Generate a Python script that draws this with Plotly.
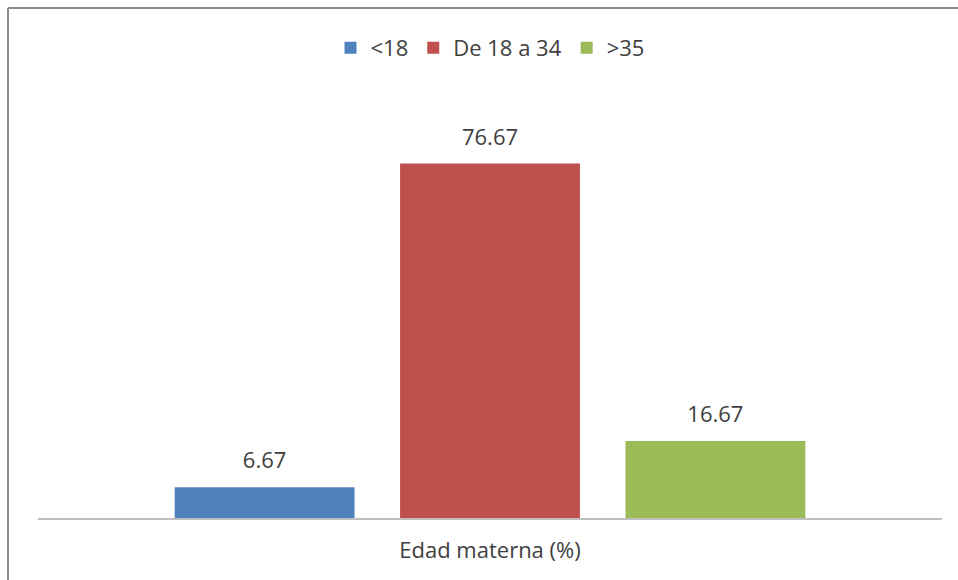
import plotly.graph_objects as go

categories = ["Edad materna (%)"]
series_names = ["<18", "De 18 a 34", ">35"]
series_values = [6.67, 76.67, 16.67]
series_colors = ["#4F81BD", "#C0504D", "#9BBB59"]

W, H = 958, 580
ml, mr, mt, mb = 38, 16, 102, 62
pw, ph = W - ml - mr, H - mt - mb
FONT = "Open Sans, Lato, sans-serif"

fig = go.Figure()
for i, (name, val, col) in enumerate(zip(series_names, series_values, series_colors)):
    fig.add_trace(go.Bar(
        x=categories, y=[val], name=name, marker_color=col, marker_line_width=0,
        offsetgroup=str(i), alignmentgroup="g",
    ))
for i, (name, val) in enumerate(zip(series_names, series_values)):
    fig.add_trace(go.Scatter(
        x=categories, y=[val], mode="markers+text", text=[f"{val:.2f}"],
        textposition="top center", marker=dict(size=20, opacity=0),
        textfont=dict(size=22, color="#404040", family=FONT),
        offsetgroup=str(i), alignmentgroup="g", showlegend=False,
        hoverinfo="skip", cliponaxis=False,
    ))

def px_x(p):
    return (p - ml) / pw

def px_y(p):
    return (H - mb - p) / ph

fig.update_layout(
    width=W, height=H,
    margin=dict(l=ml, r=mr, t=mt, b=mb),
    paper_bgcolor="white", plot_bgcolor="white",
    font=dict(family=FONT, color="#404040"),
    barmode="group", bargap=0.252, bargroupgap=0.202,
    scattermode="group", scattergap=0.252,
    showlegend=True,
    legend=dict(orientation="h", x=0.5, xanchor="center", yref="container",
                y=1 - 48 / H, yanchor="middle", font=dict(size=22, color="#404040"),
                itemwidth=30, traceorder="normal"),
    xaxis=dict(showline=True, linecolor="#BFBFBF", linewidth=2, ticks="",
               tickfont=dict(size=22, color="#404040"), ticklabelstandoff=12,
               showgrid=False, zeroline=False),
    yaxis=dict(range=[0, 90], visible=False, showgrid=False, zeroline=False),
    shapes=[
        dict(type="line", xref="paper", yref="paper", x0=px_x(8), x1=px_x(8), y0=px_y(8), y1=px_y(600),
             line=dict(color="#8C8C8C", width=2)),
        dict(type="line", xref="paper", yref="paper", x0=px_x(8), x1=px_x(980), y0=px_y(8), y1=px_y(8),
             line=dict(color="#8C8C8C", width=2)),
    ],
)

fig.write_html("out.html")
